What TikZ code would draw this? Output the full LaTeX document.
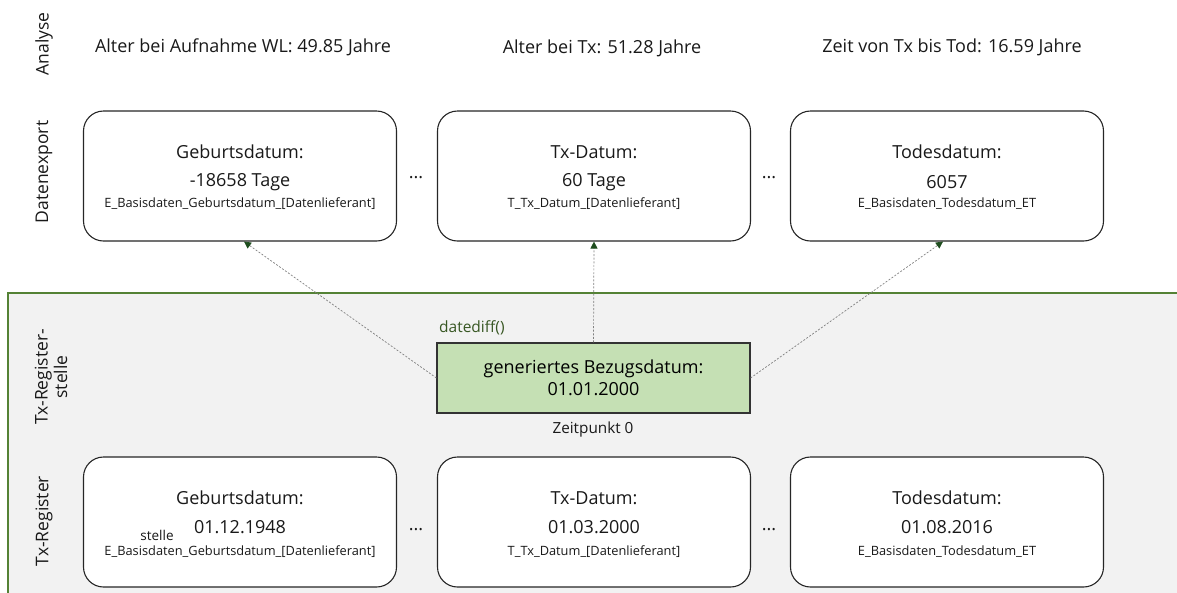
\documentclass[tikz,border=0pt]{standalone}
\usepackage{fontspec}
\setmainfont{Open Sans}
\usetikzlibrary{arrows.meta}
\definecolor{regfill}{HTML}{F2F2F2}
\definecolor{regline}{HTML}{548235}
\definecolor{boxgreen}{HTML}{C5E0B4}
\definecolor{txtgreen}{HTML}{385723}
\definecolor{tipgreen}{HTML}{1E4D1E}
\definecolor{dashgray}{HTML}{808080}
\tikzset{
  databox/.style={draw=black!85, line width=1.1pt, rounded corners=20pt, minimum width=313pt, minimum height=130pt, fill=white, inner sep=0pt},
  bigtxt/.style={font=\fontsize{18}{21}\selectfont, inner sep=0pt, text=black!90},
  smalltxt/.style={font=\fontsize{12.8}{14}\selectfont, inner sep=0pt, text=black!90},
  lanetxt/.style={font=\fontsize{17.5}{19.5}\selectfont, rotate=90, inner sep=0pt, align=center, text=black!90},
  gen/.style={draw=black!80, line width=1.1pt, fill=boxgreen, minimum width=313pt, minimum height=70pt, inner sep=0pt, align=center, font=\fontsize{18}{22}\selectfont},
  link/.style={draw=dashgray, line width=0.7pt, dash pattern=on 2pt off 1.6pt, -{Triangle[length=7pt,width=7pt,color=tipgreen,fill=tipgreen]}},
}
\begin{document}
\begin{tikzpicture}[x=1pt,y=-1pt]
\useasboundingbox (0,0) rectangle (1177,592);
% region
\fill[regfill] (8,293) rectangle (1180,595);
\draw[regline, line width=1.2pt] (8,595) -- (8,293) -- (1180,293);
% lane labels
\node[lanetxt] (lA) at (44,44) {Analyse};
\node[lanetxt] (lD) at (44,172) {Datenexport};
\node[lanetxt] (lS) at (51,377) {Tx-Register-\\stelle};
\node[lanetxt] (lR) at (44,521) {Tx-Register};
% analysis texts
\node[bigtxt] (a1) at (243,47) {Alter bei Aufnahme WL: 49.85 Jahre};
\node[bigtxt] (a2) at (602,48) {Alter bei Tx: 51.28 Jahre};
\node[bigtxt] (a3) at (952,47) {Zeit von Tx bis Tod: 16.59 Jahre};
% top boxes
\node[databox] (e1) at (240,176) {};
\node[databox] (e2) at (594,176) {};
\node[databox] (e3) at (947,176) {};
\node[bigtxt] (e1a) at (240,152) {Geburtsdatum:};
\node[bigtxt] (e1b) at (240,182) {-18658 Tage};
\node[smalltxt] (e1c) at (240,204) {E\_Basisdaten\_Geburtsdatum\_[Datenlieferant]};
\node[bigtxt] (e2a) at (594,152) {Tx-Datum:};
\node[bigtxt] (e2b) at (594,182) {60 Tage};
\node[smalltxt] (e2c) at (594,204) {T\_Tx\_Datum\_[Datenlieferant]};
\node[bigtxt] (e3a) at (947,152) {Todesdatum:};
\node[bigtxt] (e3b) at (947,182) {6057};
\node[smalltxt] (e3c) at (947,204) {E\_Basisdaten\_Todesdatum\_ET};
\node[bigtxt] (d1) at (416,178) {...};
\node[bigtxt] (d2) at (769,178) {...};
% generated date
\node[gen] (g) at (593.5,378) {generiertes Bezugsdatum:\\01.01.2000};
\node[font=\fontsize{15.5}{17}\selectfont, text=txtgreen, inner sep=0pt, anchor=west] (dd) at (439,328) {datediff()};
\node[font=\fontsize{15.3}{17}\selectfont, inner sep=0pt, text=black!90] (zp) at (593,430) {Zeitpunkt 0};
% bottom boxes
\node[databox] (r1) at (240,522) {};
\node[databox] (r2) at (594,522) {};
\node[databox] (r3) at (947,522) {};
\node[bigtxt] (r1a) at (240,498) {Geburtsdatum:};
\node[bigtxt] (r1b) at (240,527) {01.12.1948};
\node[smalltxt] (r1c) at (240,552) {E\_Basisdaten\_Geburtsdatum\_[Datenlieferant]};
\node[font=\fontsize{13.5}{15}\selectfont, inner sep=0pt, text=black!90] (st) at (157,535) {stelle};
\node[bigtxt] (r2a) at (594,498) {Tx-Datum:};
\node[bigtxt] (r2b) at (594,527) {01.03.2000};
\node[smalltxt] (r2c) at (594,552) {T\_Tx\_Datum\_[Datenlieferant]};
\node[bigtxt] (r3a) at (947,498) {Todesdatum:};
\node[bigtxt] (r3b) at (947,527) {01.08.2016};
\node[smalltxt] (r3c) at (947,552) {E\_Basisdaten\_Todesdatum\_ET};
\node[bigtxt] (d3) at (416,530) {...};
\node[bigtxt] (d4) at (769,530) {...};
% links
\draw[link] (g.west) -- (e1.south -| 244,0);
\draw[link] (g.north) -- (e2.south);
\draw[link] (g.east) -- (e3.south -| 943,0);
\end{tikzpicture}
\end{document}
